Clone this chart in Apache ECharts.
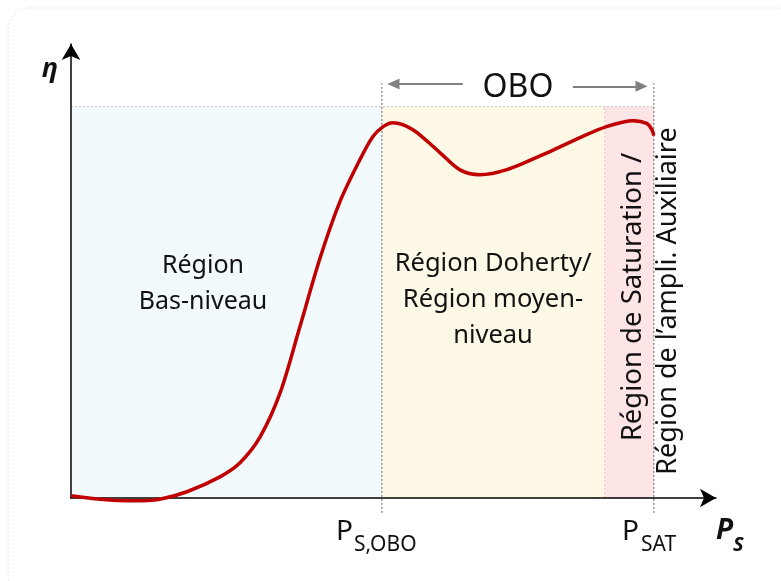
<!DOCTYPE html>
<html>
<head>
<meta charset="utf-8">
<script src="https://cdn.jsdelivr.net/npm/echarts@6/dist/echarts.min.js"></script>
<style>
  html, body { margin: 0; padding: 0; background: #fff; }
  #chart { width: 781px; height: 581px; }
</style>
</head>
<body>
<div id="chart"></div>
<script>
// courbe de rendement (unités arbitraires : P_SAT = 90, haut des régions = 100)
const etaX = [0, 4.5, 9.6, 13.7, 17.9, 23.0, 26.1, 29.2, 32.3, 35.3, 38.4, 41.5, 44.6, 46.6, 48.2, 49.7,
  52.8, 57.0, 60.0, 63.1, 67.3, 73.5, 78.6, 82.7, 86.8, 88.9, 89.7, 90.0];
const etaY = [0.6, -0.3, -0.7, -0.3, 1.6, 5.4, 9.0, 15.6, 26.9, 43.5, 61.0, 75.6, 86.4, 92.3, 94.9, 95.9,
  94.1, 88.2, 83.9, 82.6, 83.9, 88.2, 92.1, 94.9, 96.4, 95.7, 94.1, 92.6];

// limites des régions
const regionEdges = [0, 48, 82.4, 90];
const regionTop = 100;
const pObo = 48;
const pSat = 90;
const markerSpan = [-3.8, 106];
// flèches OBO
const oboLeft = [60.5, 49.8];
const oboRight = [77.5, 88.1];
const oboLevel = [105.8, 105.2];

const font = 'Noto Sans';
const chart = echarts.init(document.getElementById('chart'));

const curve = etaX.map((x, i) => [x, etaY[i]]);
const shadeColors = ['#f2fafd', '#fef8e6', '#fde4e5'];
const areas = [];
for (let i = 0; i < regionEdges.length - 1; i++) {
  areas.push([
    { coord: [regionEdges[i], 0], itemStyle: { color: shadeColors[i] } },
    { coord: [regionEdges[i + 1], regionTop] }
  ]);
}

const dotted = (data, color) => ({
  type: 'line',
  data: data,
  clip: false,
  silent: true,
  symbol: 'none',
  z: 2,
  lineStyle: { color: color, width: 1.2, type: [2, 2] }
});

const txt = (x, y, text, size, extra) => Object.assign({
  type: 'text', x: x, y: y, z: 20,
  style: Object.assign({
    text: text, fontSize: size, fontFamily: font, fill: '#111',
    align: 'center', verticalAlign: 'middle'
  }, extra || {})
});

const option = {
  animation: false,
  backgroundColor: '#fff',
  grid: { left: 71, right: 65, top: 44, bottom: 83 },
  xAxis: {
    type: 'value', min: 0, max: 99.6, z: 5,
    axisLine: { lineStyle: { color: '#000', width: 1.5 }, symbol: ['none', 'arrow'], symbolSize: [14, 16] },
    axisTick: { show: false }, axisLabel: { show: false }, splitLine: { show: false }
  },
  yAxis: {
    type: 'value', min: 0, max: 116, z: 5,
    axisLine: { lineStyle: { color: '#000', width: 1.5 }, symbol: ['none', 'arrow'], symbolSize: [14, 16] },
    axisTick: { show: false }, axisLabel: { show: false }, splitLine: { show: false }
  },
  series: [
    {
      type: 'line', data: [], z: 1, silent: true,
      markArea: { silent: true, itemStyle: { opacity: 1 }, data: areas }
    },
    dotted([[regionEdges[0], regionTop], [pSat, regionTop]], '#d2d2d2'),
    dotted([[regionEdges[2], 0], [regionEdges[2], regionTop]], '#f2c4c4'),
    dotted([[pObo, markerSpan[0]], [pObo, markerSpan[1]]], '#7a7a7a'),
    dotted([[pSat, markerSpan[0]], [pSat, markerSpan[1]]], '#7a7a7a'),
    {
      type: 'line', data: [], z: 3, silent: true,
      markLine: {
        silent: true,
        symbol: ['none', 'triangle'],
        symbolSize: [11, 12],
        label: { show: false },
        lineStyle: { color: '#808080', width: 2, type: 'solid' },
        data: [
          [{ coord: [oboLeft[0], oboLevel[0]] }, { coord: [oboLeft[1], oboLevel[0]] }],
          [{ coord: [oboRight[0], oboLevel[1]] }, { coord: [oboRight[1], oboLevel[1]] }]
        ]
      }
    },
    {
      type: 'line', data: curve, z: 8, clip: false, silent: true,
      smooth: 0.3, symbol: 'none',
      lineStyle: { color: '#c00000', width: 3.5 }
    }
  ],
  graphic: [
    {
      type: 'rect', z: 0, silent: true,
      shape: { x: 8, y: 8, width: 790, height: 590, r: 22 },
      style: { fill: 'none', stroke: '#e2e2e2', lineWidth: 1, lineDash: [2, 2] }
    },
    txt(50, 69, '\u03b7', 27, { fontWeight: 'bold', fontStyle: 'italic' }),
    txt(518, 88, 'OBO', 32),
    txt(203, 284, 'Région\nBas-niveau', 25, { lineHeight: 36.5 }),
    txt(493, 300, 'Région Doherty/\nRégion moyen-\nniveau', 25.5, { lineHeight: 36 }),
    Object.assign(txt(633, 297, 'Région de Saturation /', 27.5), { rotation: Math.PI / 2 }),
    Object.assign(txt(668, 301, 'Région de l\u2019ampli. Auxiliaire', 27), { rotation: Math.PI / 2 }),
    txt(336, 532, 'P', 28, { align: 'left' }),
    txt(354, 545, 'S,OBO', 21, { align: 'left' }),
    txt(622, 532, 'P', 28, { align: 'left' }),
    txt(641, 545, 'SAT', 21, { align: 'left' }),
    txt(716, 531, 'P', 28, { align: 'left', fontWeight: 'bold', fontStyle: 'italic' }),
    txt(733, 545, 'S', 20, { align: 'left', fontWeight: 'bold', fontStyle: 'italic' })
  ]
};
chart.setOption(option);
</script>
</body>
</html>
